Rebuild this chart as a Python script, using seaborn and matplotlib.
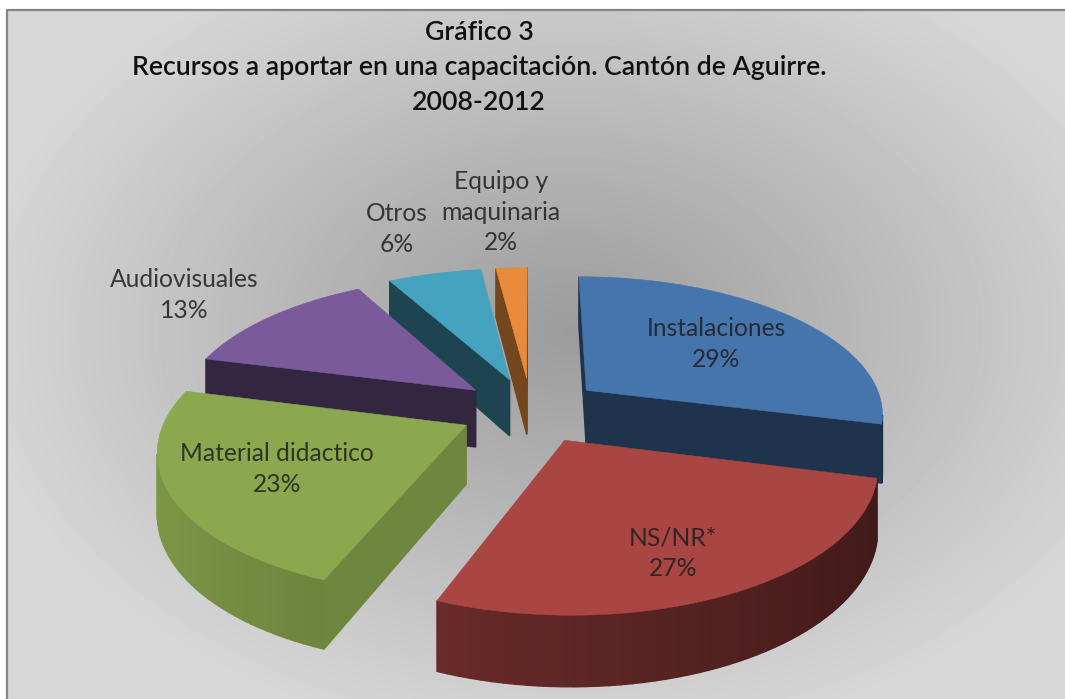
"""Gráfico 3 - exploded 3D pie drawn by hand on a matplotlib axes."""

import matplotlib
matplotlib.use("Agg")
import matplotlib.pyplot as plt
from matplotlib.colors import to_rgb
import seaborn as sns
import numpy as np

categories = ["Instalaciones", "NS/NR*", "Material didactico",
              "Audiovisuales", "Otros", "Equipo y\nmaquinaria"]
values = [29, 27, 23, 13, 6, 2]
title_lines = ["Gráfico 3",
               "Recursos a aportar en una capacitación. Cantón de Aguirre.",
               "2008-2012"]

top_colors = ["#4674ad", "#a94542", "#8ba84f", "#7a5a9b", "#46a3bf", "#e88b3c"]
radial_shade = [0.44, 0.45, 0.80, 0.42, 0.42, 0.5]
arc_bright = [0.50, 0.553, 0.72, 0.5, 0.5, 0.5]
draw_order = [5, 4, 3, 0, 2, 1]
label_xy = [(716, 344), (673, 553), (277, 469), (184, 295), (397, 229), (501, 212)]

W, H = 1065, 699
CX, CY = 531, 410
RX, RY = 298, 137
PERSP = 6.4
EXPLODE = 0.24
DEPTH = 58

sns.set_theme(style="white")
plt.rcParams["font.family"] = ["Lato", "DejaVu Sans"]


def project(X, Y):
    s = PERSP / (PERSP + Y)
    return CX + RX * X * s, CY - RY * Y * s, s


def shade(color, f):
    return tuple(c * f for c in to_rgb(color))


fig = plt.figure(figsize=(W / 100, H / 100), dpi=100)
ax = fig.add_axes([0, 0, 1, 1])
ax.set_xlim(0, W)
ax.set_ylim(H, 0)
ax.axis("off")

# background: light at the edges, darker grey towards the middle
FL, FT = 7, 10
yy, xx = np.mgrid[FT:H, FL:W]
dist = np.sqrt(((xx - 570) / 620) ** 2 + ((yy - 330) / 430) ** 2)
grey = np.clip(0.61 + 0.24 * dist, 0, 0.84)
ax.imshow(grey, cmap="gray", vmin=0, vmax=1, extent=(FL, W, H, FT), aspect="auto", zorder=0)
ax.plot([FL, FL, W], [H, FT, FT], color="#868686", lw=1.6, zorder=1)

ends = np.cumsum(values) / np.sum(values) * 2 * np.pi
starts = np.concatenate([[0], ends[:-1]])

for i in draw_order:
    a0, a1 = starts[i], ends[i]
    mid = (a0 + a1) / 2
    ex, ey = EXPLODE * np.sin(mid), EXPLODE * np.cos(mid)
    ang = np.linspace(a0, a1, max(int(values[i] * 2), 8))
    X = np.concatenate([[ex], ex + np.sin(ang), [ex]])
    Y = np.concatenate([[ey], ey + np.cos(ang), [ey]])
    px, py, s = project(X, Y)
    mid_ang = np.concatenate([[a0], (ang[:-1] + ang[1:]) / 2, [a1]])
    # only edges running right-to-left on screen show their wall
    for k in range(len(px) - 1):
        if px[k + 1] >= px[k]:
            continue
        if k == 0 or k == len(px) - 2:
            f = radial_shade[i]
        else:
            f = arc_bright[i] - 0.18 * np.sin(mid_ang[k])
        col = shade(top_colors[i], f)
        ax.fill([px[k], px[k + 1], px[k + 1], px[k]],
                [py[k], py[k + 1], py[k + 1] + DEPTH * s[k + 1], py[k] + DEPTH * s[k]],
                color=col, lw=1.0, ec=col, zorder=2)
    ax.fill(px, py, color=top_colors[i], lw=0.4, ec=top_colors[i], zorder=2)

for name, v, (x, y) in zip(categories, values, label_xy):
    ax.text(x, y, f"{name}\n{v}%", ha="center", va="center", fontsize=17.7,
            color="#1f1f1f", alpha=0.85, linespacing=1.38, zorder=3)

for text_y, line in zip([32, 67, 103], title_lines):
    ax.text(479, text_y, line, ha="center", va="center", fontsize=19.2,
            fontweight=600, color="#111111", zorder=3)

fig.savefig("out.png", dpi=100)
plt.close(fig)
